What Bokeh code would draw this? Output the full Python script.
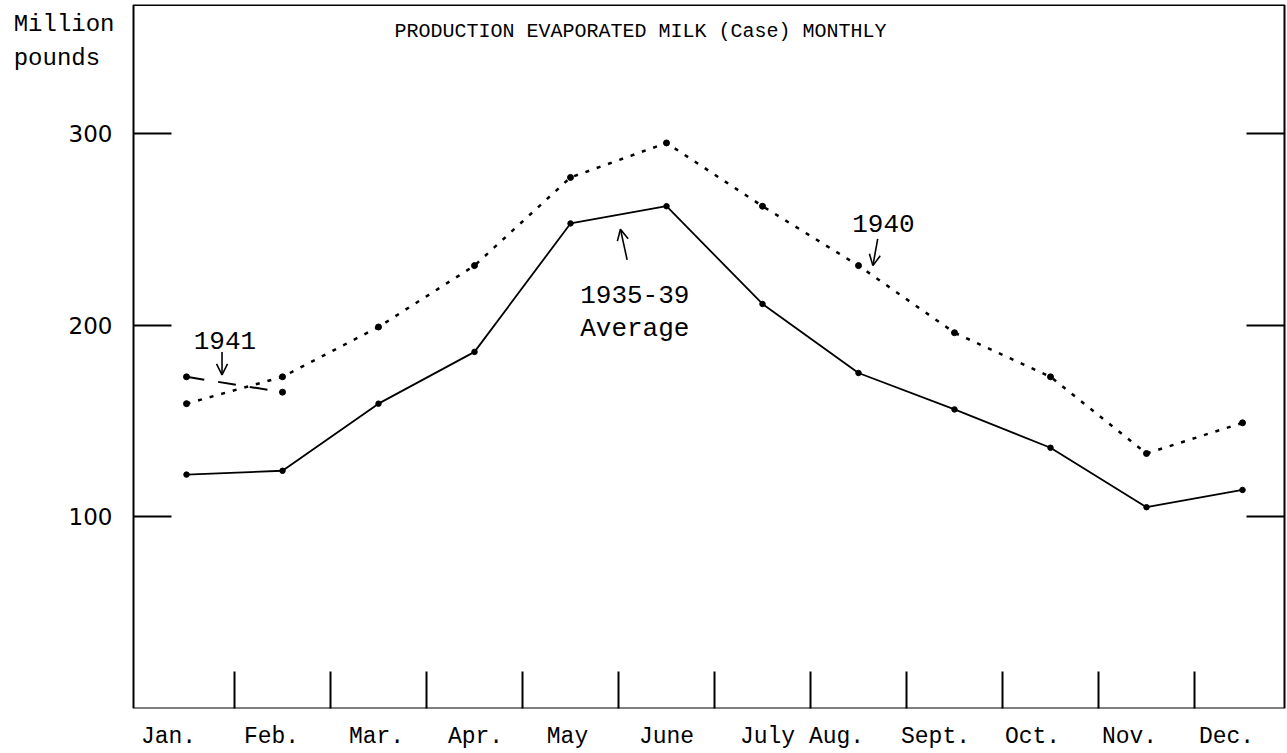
from bokeh.plotting import figure
from bokeh.models import (FixedTicker, LinearAxis, Label, Arrow, OpenHead,
                          Range1d, BoxAnnotation)
from bokeh.embed import file_html
from bokeh.resources import INLINE

# ---- data ----
months = ["Jan.", "Feb.", "Mar.", "Apr.", "May", "June", "July",
          "Aug.", "Sept.", "Oct.", "Nov.", "Dec."]
avg_1935_39 = [122, 124, 159, 186, 253, 262, 211, 175, 156, 136, 105, 114]
prod_1940 = [159, 173, 199, 231, 277, 295, 262, 231, 196, 173, 133, 149]
prod_1941 = [173, 165]
y_ticks = [100, 200, 300]

x = list(range(len(months)))
x_1941 = x[:len(prod_1941)]

# ---- layout / style ----
MONO = "Liberation Mono"
PX_PER_MONTH = 96.0
# typewritten month labels sit slightly off-centre (pixels)
label_nudge_px = [-18, -11, -2, 1, -3, 0, 5, -22, -19, -18, -17, -16]
label_pos = [round(i + n / PX_PER_MONTH, 4) for i, n in zip(x, label_nudge_px)]

# frame edges (chart box) in data units
X_LEFT, X_RIGHT = -0.552, 11.4375
Y_TOP = 367.0

p = figure(width=1286, height=752, output_backend="svg", toolbar_location=None,
           x_range=Range1d(-1.9375, 11.4583), y_range=Range1d(0, 367.2),
           x_axis_type=None, y_axis_type=None,
           min_border_left=0, min_border_right=0, min_border_top=4,
           min_border_bottom=43)
p.outline_line_color = None
p.background_fill_color = "white"
p.border_fill_color = "white"

# chart box
p.add_layout(BoxAnnotation(left=X_LEFT, right=X_RIGHT, bottom=0, top=Y_TOP,
                           fill_color=None, fill_alpha=0,
                           line_color="black", line_alpha=1.0, line_width=2))

# bottom axis: month labels, short vertical separators between months
xaxis = LinearAxis(
    ticker=FixedTicker(ticks=label_pos, minor_ticks=[i + 0.5 for i in x[:-1]]),
    major_label_overrides={t: m for t, m in zip(label_pos, months)},
    major_tick_in=0, major_tick_out=0,
    minor_tick_in=37, minor_tick_out=0, minor_tick_line_width=2,
    minor_tick_line_color="black",
    axis_line_color=None,
    major_label_text_font=MONO, major_label_text_font_size="23px",
    major_label_text_color="black", major_label_standoff=15)
p.add_layout(xaxis, "below")

# left axis, placed on the chart box edge
yaxis = LinearAxis(
    ticker=FixedTicker(ticks=y_ticks), fixed_location=X_LEFT,
    major_tick_in=38, major_tick_out=0, major_tick_line_width=2,
    major_tick_line_color="black",
    minor_tick_in=0, minor_tick_out=0,
    axis_line_color=None,
    major_label_text_font="DejaVu Sans", major_label_text_font_size="23px",
    major_label_text_color="black", major_label_standoff=21)
p.add_layout(yaxis, "left")

# right axis (ticks only)
raxis = LinearAxis(
    ticker=FixedTicker(ticks=y_ticks), fixed_location=X_RIGHT,
    major_label_overrides={t: "" for t in y_ticks},
    major_tick_in=38, major_tick_out=0, major_tick_line_width=2,
    major_tick_line_color="black",
    minor_tick_in=0, minor_tick_out=0,
    axis_line_color=None,
    major_label_text_font_size="1px", major_label_standoff=0)
p.add_layout(raxis, "right")

# series
p.line(x, avg_1935_39, line_color="black", line_width=1.8)
p.scatter(x, avg_1935_39, size=5.5, color="black")

p.line(x, prod_1940, line_color="black", line_width=2.5, line_dash="4 8")
p.scatter(x, prod_1940, size=6, color="black")

p.line(x_1941, prod_1941, line_color="black", line_width=2, line_dash="18 14")
p.scatter(x_1941, prod_1941, size=6, color="black")

# texts
def lab(txt, xx, yy, size, align="left", font=MONO):
    p.add_layout(Label(x=xx, y=yy, text=txt, text_font=font,
                       text_font_size=size, text_align=align,
                       text_baseline="alphabetic", text_color="black"))

lab("PRODUCTION EVAPORATED MILK (Case) MONTHLY", 4.73, 353.0, "20px", "center")
lab("Million", -1.80, 357.0, "24px")
lab("pounds", -1.80, 339.0, "24px")
lab("1941", 0.40, 192.0, "26px", "center")
lab("1940", 7.26, 253.0, "26px", "center")
lab("1935-39", 4.67, 216.0, "26px", "center")
lab("Average", 4.67, 198.0, "26px", "center")

# arrows
def arr(x0, y0, x1, y1):
    p.add_layout(Arrow(x_start=x0, y_start=y0, x_end=x1, y_end=y1,
                       line_color="black", line_width=1.6,
                       end=OpenHead(size=11, line_width=1.6, line_color="black")))

arr(0.37, 186.0, 0.37, 174.0)
arr(7.20, 245.0, 7.15, 231.0)
arr(4.59, 234.0, 4.52, 250.0)

open("out.html", "w").write(file_html(p, INLINE))
